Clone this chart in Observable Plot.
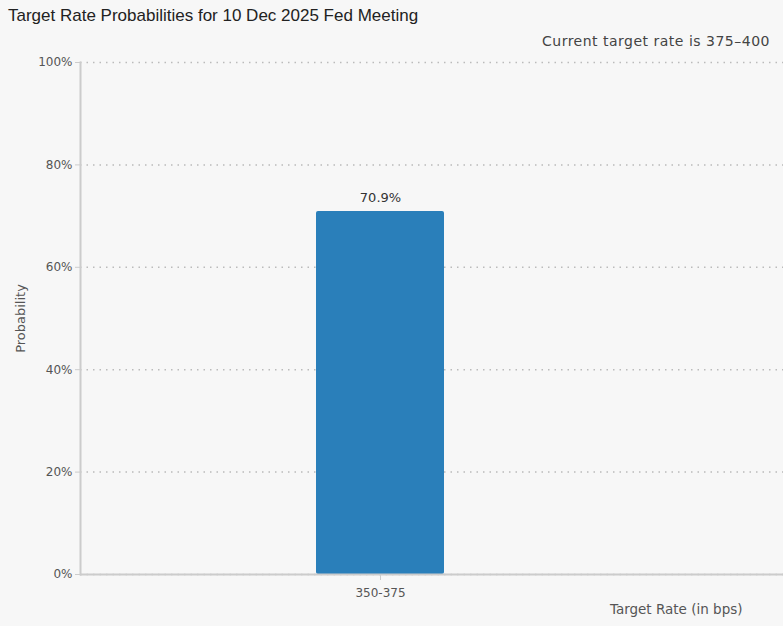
<!DOCTYPE html>
<html>
<head>
<meta charset="utf-8">
<script src="https://cdn.jsdelivr.net/npm/d3@7"></script>
<script src="https://cdn.jsdelivr.net/npm/@observablehq/plot@0.6"></script>
<style>
  html, body { margin: 0; padding: 0; background: #f7f7f7; }
  #wrap { width: 783px; height: 626px; overflow: hidden; background: #f7f7f7; }
  #title { height: 31px; line-height: 32px; padding-left: 8px; font-family: "Liberation Sans", Arial, sans-serif; font-size: 17px; color: #222; white-space: nowrap; }
  #subtitle { height: 21px; line-height: 21px; text-align: right; padding-right: 13px; font-family: "DejaVu Sans", sans-serif; font-size: 14px; letter-spacing: 0.5px; color: #444; white-space: nowrap; }
  svg { display: block; }
</style>
</head>
<body>
<div id="wrap">
  <div id="title">Target Rate Probabilities for 10 Dec 2025 Fed Meeting</div>
  <div id="subtitle">Current target rate is 375–400</div>
  <div id="chart"></div>
</div>
<script>
const categories = ["350-375"];
const probabilities = [70.9];
const yTicks = [0, 20, 40, 60, 80, 100];

const data = categories.map((c, i) => ({rate: c, prob: probabilities[i]}));

const chart = Plot.plot({
  width: 783,
  height: 574,
  marginTop: 10,
  marginBottom: 52,
  marginLeft: 80,
  marginRight: 0,
  style: {background: "transparent", fontFamily: "DejaVu Sans, sans-serif", fontSize: "12px", color: "#555"},
  x: {domain: categories, range: [316, 444], padding: 0, label: null},
  y: {domain: [0, 100], label: null},
  marks: [
    Plot.gridY(yTicks, {stroke: "#bbb", strokeOpacity: 1, strokeDasharray: "1.5,5", strokeWidth: 1.5}),
    Plot.barY(data, {x: "rate", y: "prob", fill: "#2a7fba", rx: 2}),
    Plot.text(data, {x: "rate", y: "prob", text: d => d.prob.toFixed(1) + "%", dy: -14, fontSize: 13, fill: "#333"}),
    Plot.ruleY([0], {stroke: "#ccc", strokeWidth: 2}),
    Plot.frame({anchor: "left", stroke: "#ccc", strokeWidth: 2}),
    Plot.axisY(yTicks, {tickFormat: d => d + "%", tickSize: 5, tickPadding: 3, stroke: "#ccc", fill: "#555", fontSize: 12, label: null}),
    Plot.axisX({tickSize: 6, tickPadding: 8, stroke: "#ccc", fill: "#555", fontSize: 12, label: null}),
    Plot.text(["Probability"], {frameAnchor: "left", textAnchor: "middle", dx: -60, rotate: -90, fontSize: 13, fill: "#555"}),
    Plot.text(["Target Rate (in bps)"], {frameAnchor: "bottom-right", dx: -41, dy: 39, textAnchor: "end", fontSize: 13.5, fill: "#555"})
  ]
});
document.getElementById("chart").appendChild(chart);
</script>
</body>
</html>
